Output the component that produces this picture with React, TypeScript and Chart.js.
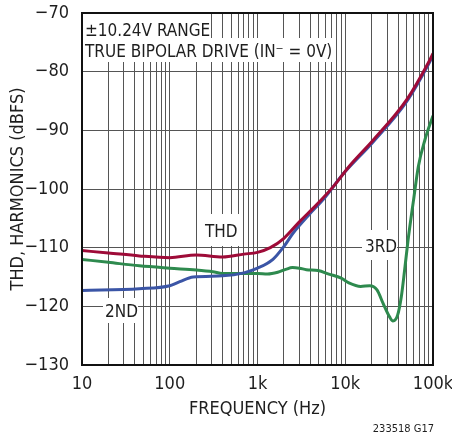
import React, { useEffect, useRef } from "react";
import { Chart, registerables } from "chart.js";

Chart.register(...registerables);

// THD curve
const thdFreq = [10, 20, 45, 100, 200, 400, 700, 1000, 1400, 2000, 3000, 4700, 7300, 11000, 21000, 50000, 92000, 100000];
const thdDb = [-110.5, -110.9, -111.4, -111.7, -111.25, -111.6, -111.1, -110.8, -110.0, -108.4, -105.6, -102.7, -99.6, -96.2, -91.6, -84.8, -78.0, -76.9];

// 2nd harmonic
const h2Freq = [10, 45, 100, 130, 185, 400, 700, 1000, 1500, 2000, 2550, 3800, 5900, 9400, 21000, 50000, 92000, 100000];
const h2Db = [-117.3, -117.0, -116.5, -115.8, -115.0, -114.8, -114.3, -113.5, -112.0, -109.8, -107.5, -104.5, -101.4, -97.5, -91.9, -85.1, -78.3, -77.2];

// 3rd harmonic
const h3Freq = [10, 20, 45, 100, 200, 310, 400, 1000, 1300, 1700, 2100, 2500, 3000, 3600, 4900, 6500, 9000, 11000, 15000, 19000, 23000, 27000, 32000, 35000, 39500, 43500, 47500, 52000, 60000, 68000, 81000, 100000];
const h3Db = [-112.0, -112.5, -113.1, -113.5, -113.8, -114.1, -114.4, -114.4, -114.5, -114.2, -113.7, -113.4, -113.5, -113.75, -113.9, -114.5, -115.2, -116.0, -116.6, -116.5, -117.2, -119.5, -121.8, -122.5, -121.5, -118.4, -113.8, -108.7, -101.9, -96.2, -91.6, -87.5];

const xMin = 10;
const xMax = 100000;
const yTicks = [-130, -120, -110, -100, -90, -80, -70];
const decadeLabels: Record<number, string> = { 10: "10", 100: "100", 1000: "1k", 10000: "10k", 100000: "100k" };

const FONT = "'Liberation Sans Narrow', 'Arial Narrow', 'DejaVu Sans Condensed', sans-serif";
const TEXT = "#1e1e1e";

// Text blocks inside the plot, each sitting on a white patch that hides the grid
const notes = [
  { text: "±10.24V RANGE", x: 85, y: 36, box: [82, 13, 207, 38] },
  { text: "TRUE BIPOLAR DRIVE (IN⁻ = 0V)", x: 85, y: 57, box: [82, 38, 333, 62] },
  { text: "THD", x: 205, y: 237, box: [201, 214, 241, 246] },
  { text: "2ND", x: 105, y: 317, box: [103, 298, 138, 323] },
  { text: "3RD", x: 365, y: 252, box: [362, 230, 397, 260] },
];

const pairs = (xs: number[], ys: number[]) => xs.map((x, i) => ({ x, y: ys[i] }));

const annotationPlugin = {
  id: "notes",
  beforeDatasetsDraw(chart: any) {
    const { ctx } = chart;
    ctx.save();
    ctx.fillStyle = "#ffffff";
    for (const n of notes) {
      const [x0, y0, x1, y1] = n.box;
      ctx.fillRect(x0, y0, x1 - x0, y1 - y0);
    }
    ctx.fillStyle = TEXT;
    ctx.font = `17px ${FONT}`;
    ctx.textBaseline = "alphabetic";
    ctx.textAlign = "left";
    for (const n of notes) ctx.fillText(n.text, n.x, n.y);
    ctx.restore();
  },
  afterDatasetsDraw(chart: any) {
    const { ctx, chartArea } = chart;
    ctx.save();
    ctx.strokeStyle = "#111";
    ctx.lineWidth = 2;
    ctx.strokeRect(chartArea.left, chartArea.top, chartArea.right - chartArea.left, chartArea.bottom - chartArea.top);
    ctx.restore();
  },
  afterDraw(chart: any) {
    const { ctx } = chart;
    ctx.save();
    ctx.fillStyle = TEXT;
    ctx.font = `11px ${FONT}`;
    ctx.textAlign = "right";
    ctx.textBaseline = "alphabetic";
    ctx.fillText("233518 G17", 434, 432);
    ctx.restore();
  },
};

export default function App() {
  const ref = useRef<HTMLCanvasElement | null>(null);

  useEffect(() => {
    if (!ref.current) return;
    const chart = new Chart(ref.current, {
      type: "line",
      data: {
        datasets: [
          { label: "THD", data: pairs(thdFreq, thdDb), borderColor: "#9e0b38" },
          { label: "2ND", data: pairs(h2Freq, h2Db), borderColor: "#3b55a6" },
          { label: "3RD", data: pairs(h3Freq, h3Db), borderColor: "#2e8a4e" },
        ],
      },
      options: {
        responsive: false,
        animation: false,
        devicePixelRatio: 1,
        layout: { padding: { top: 13, right: 19, left: 0, bottom: 0 } },
        elements: {
          point: { radius: 0 },
          line: { borderWidth: 3, cubicInterpolationMode: "monotone", fill: false },
        },
        plugins: { legend: { display: false }, tooltip: { enabled: false }, title: { display: false } },
        scales: {
          x: {
            type: "logarithmic",
            min: xMin,
            max: xMax,
            afterBuildTicks(scale: any) {
              const t: { value: number }[] = [];
              for (let d = xMin; d < xMax; d *= 10) {
                for (let m = 1; m < 10; m++) t.push({ value: d * m });
              }
              t.push({ value: xMax });
              scale.ticks = t;
            },
            afterFit(scale: any) {
              scale.height = 69;
              scale.paddingLeft = 0;
              scale.paddingRight = 0;
            },
            ticks: {
              autoSkip: false,
              maxRotation: 0,
              minRotation: 0,
              padding: 9,
              color: TEXT,
              font: { family: FONT, size: 18 },
              callback: (v: any) => decadeLabels[Math.round(Number(v))] ?? "",
            },
            grid: {
              drawTicks: false,
              color: "#555",
              lineWidth: 1,
            },
            border: { display: false },
            title: {
              display: true,
              text: "FREQUENCY (Hz)",
              color: TEXT,
              font: { family: FONT, size: 18 },
              padding: { top: 0, bottom: 14 },
            },
          },
          y: {
            min: -130,
            max: -70,
            afterBuildTicks(scale: any) {
              scale.ticks = yTicks.map((value) => ({ value }));
            },
            afterFit(scale: any) {
              scale.width = 82;
              scale.paddingTop = 0;
              scale.paddingBottom = 0;
            },
            ticks: {
              padding: 13,
              color: TEXT,
              font: { family: FONT, size: 18 },
              callback: (v: any) => (Number(v) < 0 ? "\u2212" + Math.abs(Number(v)) : String(v)),
            },
            grid: { drawTicks: false, color: "#555", lineWidth: 1 },
            border: { display: false },
            title: {
              display: true,
              text: "THD, HARMONICS (dBFS)",
              color: TEXT,
              font: { family: FONT, size: 18 },
              padding: { top: 8, bottom: 0 },
            },
          },
        },
      },
      plugins: [annotationPlugin],
    } as any);
    return () => chart.destroy();
  }, []);

  return (
    <div style={{ position: "fixed", left: 0, top: 0, width: 452, height: 434, background: "#fff" }}>
      <canvas ref={ref} width={452} height={434} style={{ display: "block" }} />
    </div>
  );
}
